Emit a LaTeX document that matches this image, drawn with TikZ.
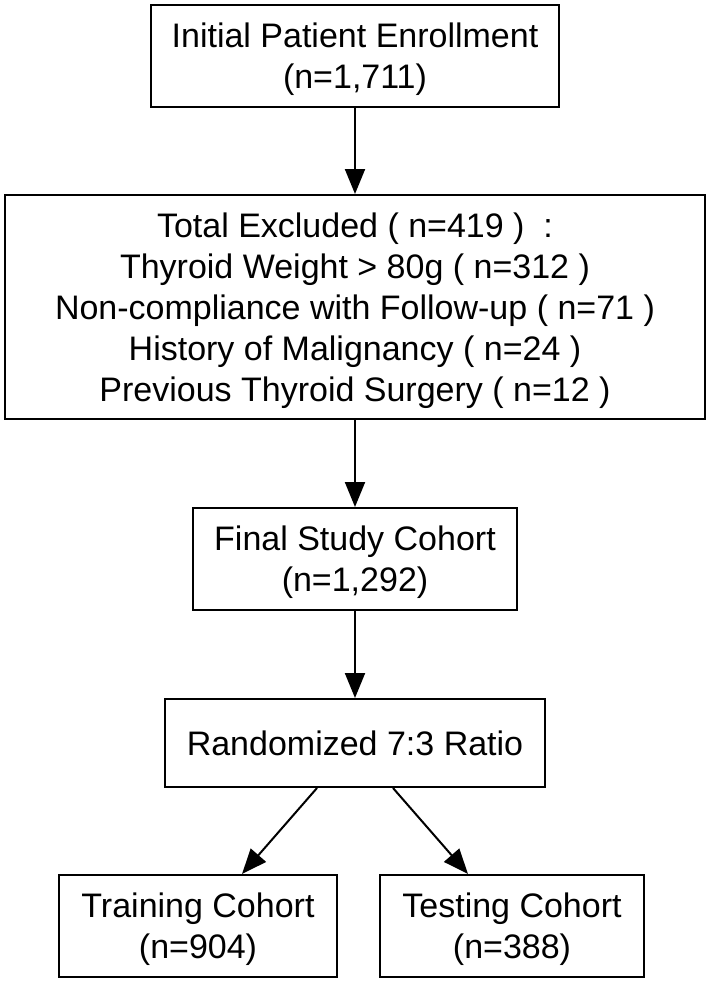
\documentclass[tikz,border=0pt]{standalone}
\usepackage{fontspec}
\setmainfont{Liberation Sans}
\usetikzlibrary{arrows.meta}

\begin{document}
\begin{tikzpicture}[x=0.5pt,y=-0.5pt,
        flowbox/.style={draw,line width=1pt,align=center,inner sep=0pt,text depth=0pt,
            font=\fontsize{17}{20.5}\selectfont},
        flowarrow/.style={-{Triangle[length=12.5pt,width=10pt]},line width=1pt}]
        \useasboundingbox (0,0) rectangle (710,985);
        % boxes
        \node[flowbox,minimum width=204pt,minimum height=51pt] (enroll) at (355,56)
            {Initial Patient Enrollment\\(n=1,711)};
        \node[flowbox,minimum width=350pt,minimum height=112pt] (excl) at (355,307)
            {Total Excluded ( n=419 )\ \ :\\
             Thyroid Weight > 80g ( n=312 )\\
             Non-compliance with Follow-up ( n=71 )\\
             History of Malignancy ( n=24 )\\
             Previous Thyroid Surgery ( n=12 )};
        \node[flowbox,minimum width=162pt,minimum height=51pt] (cohort) at (355,559)
            {Final Study Cohort\\(n=1,292)};
        \node[flowbox,minimum width=190pt,minimum height=44pt] (rand) at (355,743)
            {Randomized 7:3 Ratio};
        \node[flowbox,minimum width=139pt,minimum height=51pt] (train) at (198,926)
            {Training Cohort\\(n=904)};
        \node[flowbox,minimum width=132pt,minimum height=51pt] (test) at (512,926)
            {Testing Cohort\\(n=388)};
        % arrows
        \draw[flowarrow] (enroll) -- (excl);
        \draw[flowarrow] (excl) -- (cohort);
        \draw[flowarrow] (cohort) -- (rand);
        \draw[flowarrow] ([xshift=-19pt]rand.south) -- ([xshift=22pt]train.north);
        \draw[flowarrow] ([xshift=19pt]rand.south) -- ([xshift=-22pt]test.north);
    \end{tikzpicture}
\end{document}
